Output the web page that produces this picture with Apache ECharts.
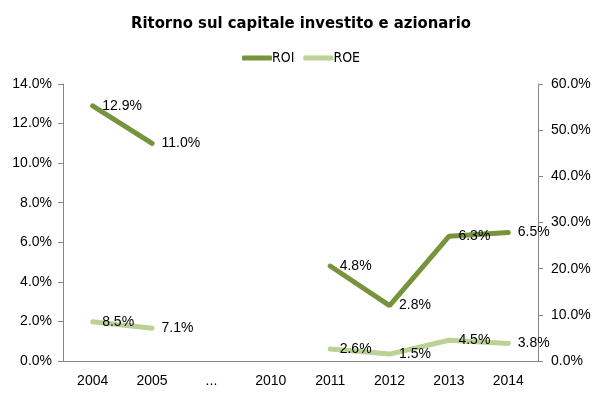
<!DOCTYPE html>
<html><head><meta charset="utf-8">
<script src="https://cdn.jsdelivr.net/npm/echarts@6/dist/echarts.min.js"></script>
<style>html,body{margin:0;padding:0;background:#fff}#c{width:602px;height:397px}</style>
</head><body><div id="c"></div>
<script>
const categories = ['2004','2005','...','2010','2011','2012','2013','2014'];
const roi = [12.9, 11.0, null, null, 4.8, 2.8, 6.3, 6.5];
const roe = [8.5, 7.1, null, null, 2.6, 1.5, 4.5, 3.8];
const leftTicks = {min: 0, max: 14, interval: 2};
const rightTicks = {min: 0, max: 60, interval: 10};

const chart = echarts.init(document.getElementById('c'));
const axisColor = '#868686';
const numFont = "'Liberation Sans', Arial, sans-serif";
const condFont = "'Liberation Sans Narrow', 'DejaVu Sans Condensed', sans-serif";
const lbl = {show: true, position: 'right', distance: 9, color: '#000', fontSize: 14, fontFamily: numFont,
  formatter: p => p.value.toFixed(1) + '%'};
chart.setOption({
  animation: false,
  title: {text: 'Ritorno sul capitale investito e azionario', left: 'center', top: 10,
    textStyle: {fontFamily: condFont, fontWeight: 'bold', fontSize: 16.5, color: '#000'}},
  legend: {top: 46, left: 'center', itemWidth: 30, itemHeight: 5, itemGap: 9,
    icon: 'roundRect',
    textStyle: {fontFamily: condFont, fontSize: 14, color: '#000', padding: [0,0,0,-5]},
    data: ['ROI','ROE']},
  grid: {left: 63, right: 64, top: 84, bottom: 36},
  xAxis: {type: 'category', data: categories, boundaryGap: true,
    axisLine: {lineStyle: {color: axisColor}}, axisTick: {show: false},
    axisLabel: {color: '#000', fontSize: 14, margin: 13, fontFamily: numFont}},
  yAxis: [
    {type: 'value', min: leftTicks.min, max: leftTicks.max, interval: leftTicks.interval,
      axisLine: {show: true, lineStyle: {color: axisColor}}, axisTick: {show: true, length: 5, lineStyle: {color: axisColor}},
      splitLine: {show: false},
      axisLabel: {color: '#000', fontSize: 14, margin: 11, fontFamily: numFont, formatter: v => v.toFixed(1) + '%'}},
    {type: 'value', min: rightTicks.min, max: rightTicks.max, interval: rightTicks.interval, position: 'right',
      axisLine: {show: true, lineStyle: {color: axisColor}}, axisTick: {show: true, length: 5, lineStyle: {color: axisColor}},
      splitLine: {show: false},
      axisLabel: {color: '#000', fontSize: 14, margin: 13, fontFamily: numFont, formatter: v => v.toFixed(1) + '%'}}
  ],
  series: [
    {name: 'ROI', type: 'line', yAxisIndex: 0, data: roi, connectNulls: false, symbol: 'circle', symbolSize: 1, showSymbol: true,
      lineStyle: {width: 5, color: '#77933C', cap: 'round'}, itemStyle: {color: '#77933C'}, label: lbl},
    {name: 'ROE', type: 'line', yAxisIndex: 1, data: roe, connectNulls: false, symbol: 'circle', symbolSize: 1, showSymbol: true,
      lineStyle: {width: 5, color: '#BCD196', cap: 'round'}, itemStyle: {color: '#BCD196'}, label: lbl}
  ]
});
</script></body></html>
